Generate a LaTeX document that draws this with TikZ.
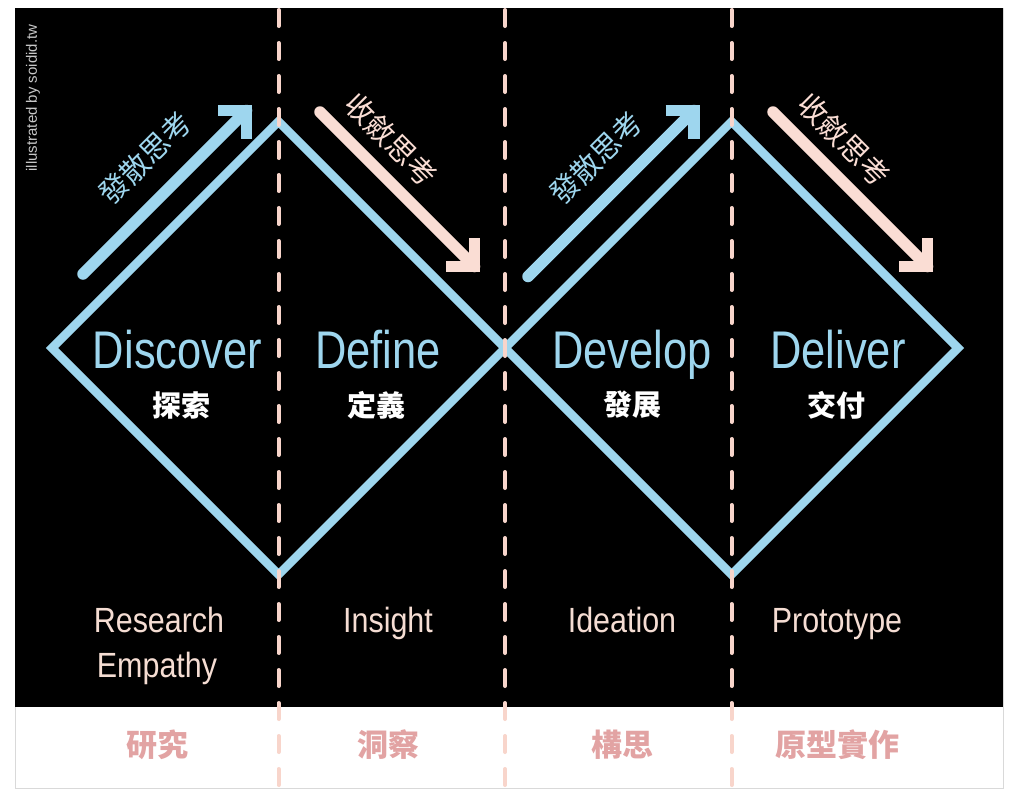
\documentclass[tikz,border=0pt]{standalone}
\usepackage{fontspec}
\setmainfont{Liberation Sans}
\newfontfamily\condbig[FakeStretch=0.82]{Liberation Sans}
\newfontfamily\condsmall[FakeStretch=0.87]{Liberation Sans}
\newfontfamily\cjk{Noto Sans CJK TC}
\usetikzlibrary{calc}
\definecolor{dblue}{HTML}{9ED6EE}
\definecolor{apink}{HTML}{FADDD4}
\definecolor{dpink}{HTML}{F8D5CB}
\definecolor{tpink}{HTML}{F5DDD3}
\definecolor{rose}{HTML}{E2A3A3}
\definecolor{credit}{HTML}{C8C8C8}
\begin{document}
\begin{tikzpicture}[x=1pt,y=-1pt,
  diamondline/.style={draw=dblue,line width=8.5pt,line join=miter},
  dashline/.style={draw=dpink,line width=4pt,line cap=round,dash pattern=on 16pt off 17pt},
  shaftblue/.style={draw=dblue,line width=11.5pt,line cap=round},
  headblue/.style={draw=dblue,line width=11.5pt,line join=miter,line cap=butt},
  shaftpink/.style={draw=apink,line width=11.5pt,line cap=round},
  headpink/.style={draw=apink,line width=11.5pt,line join=miter,line cap=butt},
  bigword/.style={text=dblue,inner sep=0pt,anchor=base,font=\condbig\fontsize{53}{53}\selectfont},
  cjkword/.style={text=white,inner sep=0pt,font=\cjk\bfseries\fontsize{29}{29}\selectfont},
  subword/.style={text=tpink,inner sep=0pt,anchor=base,font=\condsmall\fontsize{35}{35}\selectfont},
  bandword/.style={text=rose,inner sep=0pt,font=\cjk\bfseries\fontsize{31}{31}\selectfont},
  divword/.style={text=dblue,inner sep=0pt,font=\cjk\fontsize{29}{29}\selectfont,rotate=45},
  convword/.style={text=apink,inner sep=0pt,font=\cjk\fontsize{29}{29}\selectfont,rotate=-45}
]
\useasboundingbox (0,0) rectangle (1024,790);
\fill[white] (0,0) rectangle (1024,790);
\draw[draw=gray!30,fill=white,line width=1pt] (15,8) rectangle (1003,788);
\fill[black] (15,8) rectangle (1003,707);

% credit
\node[text=credit,rotate=90,inner sep=0pt,font=\fontsize{15}{15}\selectfont] (credit) at (33,98) {illustrated by soidid.tw};

% diamond vertices
\coordinate (L1) at (52,348);
\coordinate (T1) at (278.5,121.5);
\coordinate (B1) at (278.5,574.5);
\coordinate (M) at (505,348);
\coordinate (T2) at (731.5,121.5);
\coordinate (B2) at (731.5,574.5);
\coordinate (R2) at (958,348);
\draw[diamondline] (L1) -- (T1) -- (M) -- (B1) -- cycle;
\draw[diamondline] (M) -- (T2) -- (R2) -- (B2) -- cycle;

% arrows
\coordinate (bt1) at (83,274);
\coordinate (bc1) at (246.5,110.5);
\coordinate (pt1) at (320,112);
\coordinate (pc1) at (474.5,266.5);
\coordinate (bt2) at (528,276.5);
\coordinate (bc2) at (694,110.5);
\coordinate (pt2) at (773,112);
\coordinate (pc2) at (927.5,266.5);

\draw[shaftblue] (bt1) -- (bc1);
\draw[headblue] ($(bc1)+(-28.5,0)$) -- (bc1) -- ($(bc1)+(0,28.5)$);
\draw[shaftblue] (bt2) -- (bc2);
\draw[headblue] ($(bc2)+(-28.5,0)$) -- (bc2) -- ($(bc2)+(0,28.5)$);
\draw[shaftpink] (pt1) -- (pc1);
\draw[headpink] ($(pc1)+(0,-28.5)$) -- (pc1) -- ($(pc1)+(-28.5,0)$);
\draw[shaftpink] (pt2) -- (pc2);
\draw[headpink] ($(pc2)+(0,-28.5)$) -- (pc2) -- ($(pc2)+(-28.5,0)$);

\node[divword] (div1) at (145,158) {發散思考};
\node[convword] (conv1) at (391,140) {收斂思考};
\node[divword] (div2) at (596,158) {發散思考};
\node[convword] (conv2) at (844,140) {收斂思考};

% dashed dividers
\coordinate (d1t) at (278.5,10);
\coordinate (d1b) at (278.5,788);
\coordinate (d2t) at (505,10);
\coordinate (d2b) at (505,788);
\coordinate (d3t) at (731.5,10);
\coordinate (d3b) at (731.5,788);
\draw[dashline] (d1t) -- (d1b);
\draw[dashline] (d2t) -- (d2b);
\draw[dashline] (d3t) -- (d3b);

% phase titles
\node[bigword] (discover) at (177.5,368) {Discover};
\node[bigword] (define) at (378,368) {Define};
\node[bigword] (develop) at (632,368) {Develop};
\node[bigword] (deliver) at (838,368) {Deliver};

\node[cjkword] (tansuo) at (181,405) {探索};
\node[cjkword] (dingyi) at (376,405) {定義};
\node[cjkword] (fazhan) at (632,405) {發展};
\node[cjkword] (jiaofu) at (836,405) {交付};

% activities
\node[subword] (research) at (159,632) {Research};
\node[subword] (empathy) at (157,677) {Empathy};
\node[subword] (insight) at (388,632) {Insight};
\node[subword] (ideation) at (622,632) {Ideation};
\node[subword] (prototype) at (837,632) {Prototype};

% band
\node[bandword] (yanjiu) at (157,745) {研究};
\node[bandword] (dongcha) at (388,745) {洞察};
\node[bandword] (gousi) at (622,745) {構思};
\node[bandword] (yuanxing) at (837,745) {原型實作};
\end{tikzpicture}
\end{document}
